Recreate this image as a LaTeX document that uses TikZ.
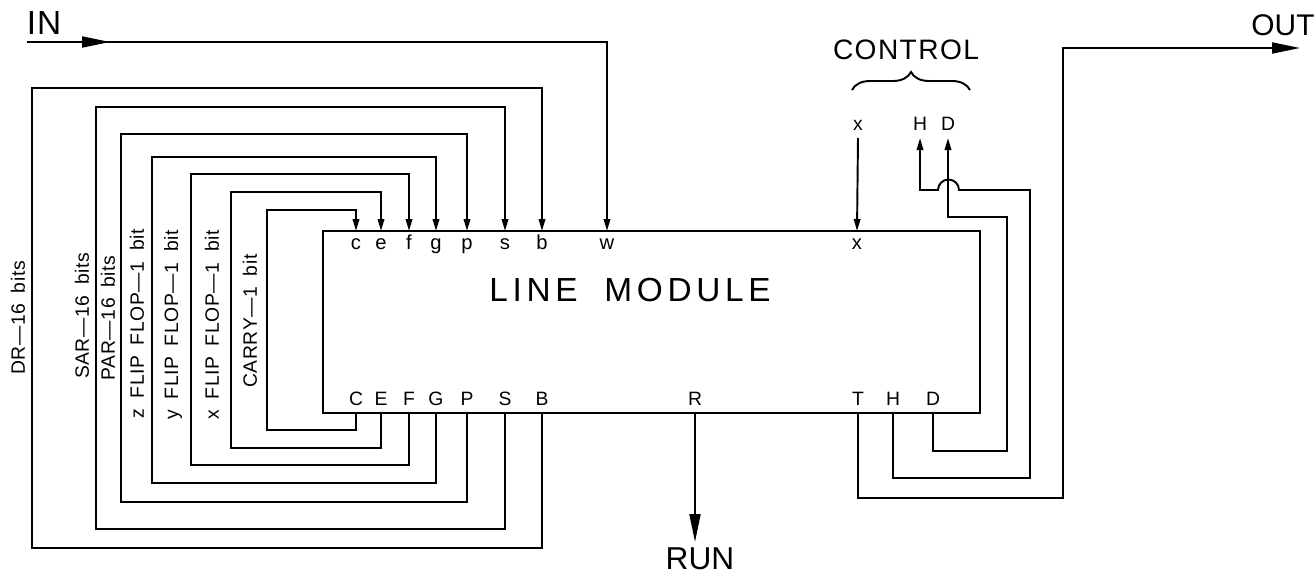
\documentclass[tikz,border=0pt]{standalone}
\usepackage{fontspec}
\setmainfont{Liberation Sans}
\usetikzlibrary{arrows.meta,decorations.pathreplacing}
\newcommand\widewords{\spaceskip 0.55em\relax}

\begin{document}
\begin{tikzpicture}[x=0.2mm,y=0.2mm,line width=1.1pt,>={Triangle[length=2.4mm,width=1.3mm]},
  bigtip/.style={-{Triangle[length=5.6mm,width=2.2mm]}},
  lopin/.style={anchor=base,inner sep=0pt,font=\fontsize{11.5}{11.5}\selectfont},
  uppin/.style={anchor=base,inner sep=0pt,font=\fontsize{11}{11}\selectfont},
  reglbl/.style={rotate=90,inner sep=0pt,font=\fontsize{11}{11}\selectfont\addfontfeature{LetterSpace=3}\widewords},
  biglbl/.style={inner sep=0pt,font=\fontsize{19}{19}\selectfont\addfontfeature{LetterSpace=3}}]
  \useasboundingbox (0,0) rectangle (1315,576);
  % the module
  \node[draw,line width=1.5pt,minimum width=13.14cm,minimum height=3.64cm,inner sep=0pt,outer sep=0pt] (module) at (651.5,254) {};
  \node[font=\fontsize{19}{19}\selectfont\addfontfeature{LetterSpace=14}] (modname) at (630,286) {LINE\hspace{0.8em}MODULE};
  % inputs on top
  \node[lopin] (tc) at (356,327) {c};
  \node[lopin] (te) at (381,327) {e};
  \node[lopin] (tf) at (409,327) {f};
  \node[lopin] (tg) at (436,327) {g};
  \node[lopin] (tp) at (467,327) {p};
  \node[lopin] (ts) at (505,327) {s};
  \node[lopin] (tb) at (542,327) {b};
  \node[lopin] (tw) at (607,327) {w};
  \node[lopin] (tx) at (857,327) {x};
  % outputs below
  \node[uppin] (bC) at (356,171) {C};
  \node[uppin] (bE) at (381,171) {E};
  \node[uppin] (bF) at (409,171) {F};
  \node[uppin] (bG) at (436,171) {G};
  \node[uppin] (bP) at (467,171) {P};
  \node[uppin] (bS) at (505,171) {S};
  \node[uppin] (bB) at (542,171) {B};
  \node[uppin] (bR) at (695,171) {R};
  \node[uppin] (bT) at (858,171) {T};
  \node[uppin] (bH) at (893,171) {H};
  \node[uppin] (bD) at (933,171) {D};
  % registers fed back
  \draw[->] (bC |- module.south) |- (267,146) |- (356,366) -- (tc |- module.north);
  \draw[->] (bE |- module.south) |- (231,128) |- (381,384) -- (te |- module.north);
  \draw[->] (bF |- module.south) |- (191,111) |- (409,402) -- (tf |- module.north);
  \draw[->] (bG |- module.south) |- (152,93) |- (436,419) -- (tg |- module.north);
  \draw[->] (bP |- module.south) |- (121,74) |- (467,442) -- (tp |- module.north);
  \draw[->] (bS |- module.south) |- (96,47) |- (505,469) -- (ts |- module.north);
  \draw[->] (bB |- module.south) |- (32,28) |- (542,488) -- (tb |- module.north);
  \node[reglbl] (dr) at (18,258) {DR—16 bits};
  \node[reglbl] (sar) at (82,260) {SAR—16 bits};
  \node[reglbl] (par) at (108,258) {PAR—16 bits};
  \node[reglbl] (zff) at (137,252) {z FLIP FLOP—1 bit};
  \node[reglbl] (yff) at (173,251) {y FLIP FLOP—1 bit};
  \node[reglbl] (xff) at (212,251) {x FLIP FLOP—1 bit};
  \node[reglbl] (carry) at (250,255) {CARRY—1 bit};
  % in
  \coordinate (in) at (27,534);
  \node[biglbl] (inlbl) at (44,553) {IN};
  \draw[->] (in) -| (tw |- module.north);
  \draw[bigtip] (in) -- (110,534);
  % control
  \node[font=\fontsize{16}{16}\selectfont\addfontfeature{LetterSpace=5}] (ctrl) at (906,526) {CONTROL};
  \draw[decorate,decoration={brace,amplitude=3.6mm}] (852,486) -- (970,486);
  \node[uppin] (cx) at (858,446) {x};
  \node[uppin] (cH) at (920,446) {H};
  \node[uppin] (cD) at (948,446) {D};
  \draw[->] ([yshift=-1.6mm]cx.base) -- (tx |- module.north);
  \draw[->] (bH |- module.south) |- (1030,98) |- (959,386) arc (0:180:10.5) -- (920,386) -- ([yshift=-1.6mm]cH.base);
  \draw[->] (bD |- module.south) |- (1007,125) |- (948,359) -- ([yshift=-1.6mm]cD.base);
  % out
  \coordinate (outend) at (1300,528);
  \node[biglbl,font=\fontsize{17}{17}\selectfont] (outlbl) at (1283,551) {OUT};
  \draw[bigtip] (bT |- module.south) |- (1063,78) |- (outend);
  % run
  \coordinate (runend) at (695,34);
  \node[biglbl,anchor=north,font=\fontsize{18}{18}\selectfont] (run) at (700,29) {RUN};
  \draw[bigtip] (bR |- module.south) -- (runend);
\end{tikzpicture}
\end{document}
